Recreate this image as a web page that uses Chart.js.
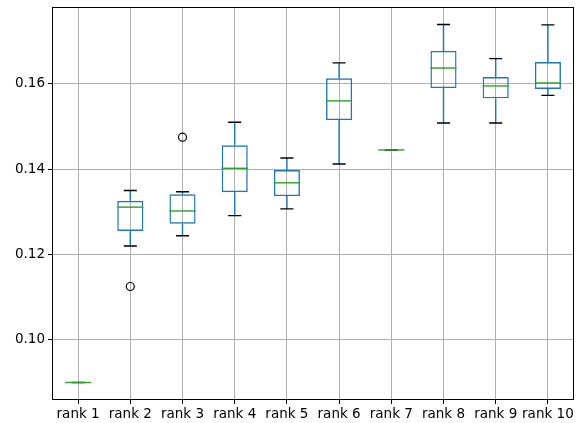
<!DOCTYPE html>
<html>
<head>
<meta charset="utf-8">
<script src="https://cdn.jsdelivr.net/npm/chart.js@4"></script>
<style>
  body { margin: 0; background: #fff; }
  canvas { display: block; }
</style>
</head>
<body>
<canvas id="boxChart" width="582" height="423"></canvas>
<script>
// categories
const labels = ['rank 1', 'rank 2', 'rank 3', 'rank 4', 'rank 5', 'rank 6', 'rank 7', 'rank 8', 'rank 9', 'rank 10'];

// box plot stats
const whiskerLow  = [0.0900, 0.1220, 0.1244, 0.1291, 0.1307, 0.1412, 0.1445, 0.1508, 0.1508, 0.1573];
const q1          = [0.0900, 0.1255, 0.1272, 0.1346, 0.1337, 0.1515, 0.1445, 0.1590, 0.1566, 0.1588];
const median      = [0.0900, 0.1311, 0.1302, 0.1402, 0.1368, 0.1560, 0.1445, 0.1637, 0.1595, 0.1602];
const q3          = [0.0900, 0.1326, 0.1341, 0.1456, 0.1398, 0.1613, 0.1445, 0.1677, 0.1616, 0.1651];
const whiskerHigh = [0.0900, 0.1350, 0.1347, 0.1510, 0.1426, 0.1649, 0.1445, 0.1739, 0.1659, 0.1738];
const outliers    = [null, 0.1125, 0.1475, null, null, null, null, null, null, null];

// y axis
const yTicks = [0.10, 0.12, 0.14, 0.16];
const yMin = 0.0859;
const yMax = 0.1780;

const boxBlue = '#1f77b4';
const medGreen = '#2ca02c';

// whiskers, caps, medians and frame
const boxPlugin = {
    id: 'boxExtras',
    afterDatasetsDraw(chart) {
        const ctx = chart.ctx;
        const xs = chart.scales.x;
        const ys = chart.scales.y;
        const meta = chart.getDatasetMeta(0);
        ctx.save();
        ctx.lineWidth = 1.4;
        labels.forEach((lab, i) => {
            const x = xs.getPixelForValue(i);
            const bw = meta.data[i].width;
            const yq1 = ys.getPixelForValue(q1[i]);
            const yq3 = ys.getPixelForValue(q3[i]);
            const ylo = ys.getPixelForValue(whiskerLow[i]);
            const yhi = ys.getPixelForValue(whiskerHigh[i]);
            const ymed = ys.getPixelForValue(median[i]);
            // whiskers
            ctx.strokeStyle = boxBlue;
            ctx.beginPath();
            ctx.moveTo(x, yq3); ctx.lineTo(x, yhi);
            ctx.moveTo(x, yq1); ctx.lineTo(x, ylo);
            ctx.stroke();
            // caps
            ctx.strokeStyle = '#000';
            ctx.beginPath();
            ctx.moveTo(x - bw / 4, yhi); ctx.lineTo(x + bw / 4, yhi);
            ctx.moveTo(x - bw / 4, ylo); ctx.lineTo(x + bw / 4, ylo);
            ctx.stroke();
            // median
            ctx.strokeStyle = medGreen;
            ctx.beginPath();
            ctx.moveTo(x - bw / 2, ymed); ctx.lineTo(x + bw / 2, ymed);
            ctx.stroke();
        });
        ctx.restore();
    },
    afterDraw(chart) {
        const a = chart.chartArea;
        const ctx = chart.ctx;
        ctx.save();
        ctx.strokeStyle = '#000';
        ctx.lineWidth = 1;
        ctx.strokeRect(Math.round(a.left) + 0.5, Math.round(a.top) + 0.5,
            Math.round(a.right - a.left) - 1, Math.round(a.bottom - a.top) - 1);
        ctx.restore();
    }
};

new Chart(document.getElementById('boxChart'), {
    type: 'bar',
    data: {
        labels: labels,
        datasets: [{
            data: labels.map((l, i) => [q1[i], q3[i]]),
            backgroundColor: 'rgba(0,0,0,0)',
            borderColor: boxBlue,
            borderWidth: 1.4,
            borderSkipped: false,
            barPercentage: 0.5,
            categoryPercentage: 1.0
        }, {
            type: 'line',
            data: outliers,
            showLine: false,
            pointRadius: 4,
            pointBorderWidth: 1.2,
            pointBorderColor: '#000',
            pointBackgroundColor: 'rgba(0,0,0,0)'
        }]
    },
    options: {
        responsive: false,
        animation: false,
        devicePixelRatio: 1,
        layout: { padding: { left: 0, right: 8, top: 7, bottom: 0 } },
        plugins: { legend: { display: false }, tooltip: { enabled: false } },
        scales: {
            x: {
                offset: true,
                grid: { offset: false, color: '#b0b0b0', lineWidth: 1, tickColor: '#000', tickLength: 4 },
                border: { display: false },
                ticks: { color: '#000', font: { family: 'DejaVu Sans', size: 13.5 }, padding: 2, maxRotation: 0, autoSkip: false },
                afterFit(scale) {
                    scale.height = 23;
                    scale.paddingLeft = 0;
                    scale.paddingRight = 0;
                }
            },
            y: {
                min: yMin,
                max: yMax,
                grid: { color: '#b0b0b0', lineWidth: 1, tickColor: '#000', tickLength: 4 },
                border: { display: false },
                ticks: {
                    color: '#000',
                    font: { family: 'DejaVu Sans', size: 13.5 },
                    padding: 3,
                    callback: v => v.toFixed(2)
                },
                afterBuildTicks(scale) { scale.ticks = yTicks.map(v => ({ value: v })); },
                afterFit(scale) {
                    scale.width = 52;
                    scale.paddingTop = 0;
                    scale.paddingBottom = 0;
                }
            }
        }
    },
    plugins: [boxPlugin]
});
</script>
</body>
</html>
